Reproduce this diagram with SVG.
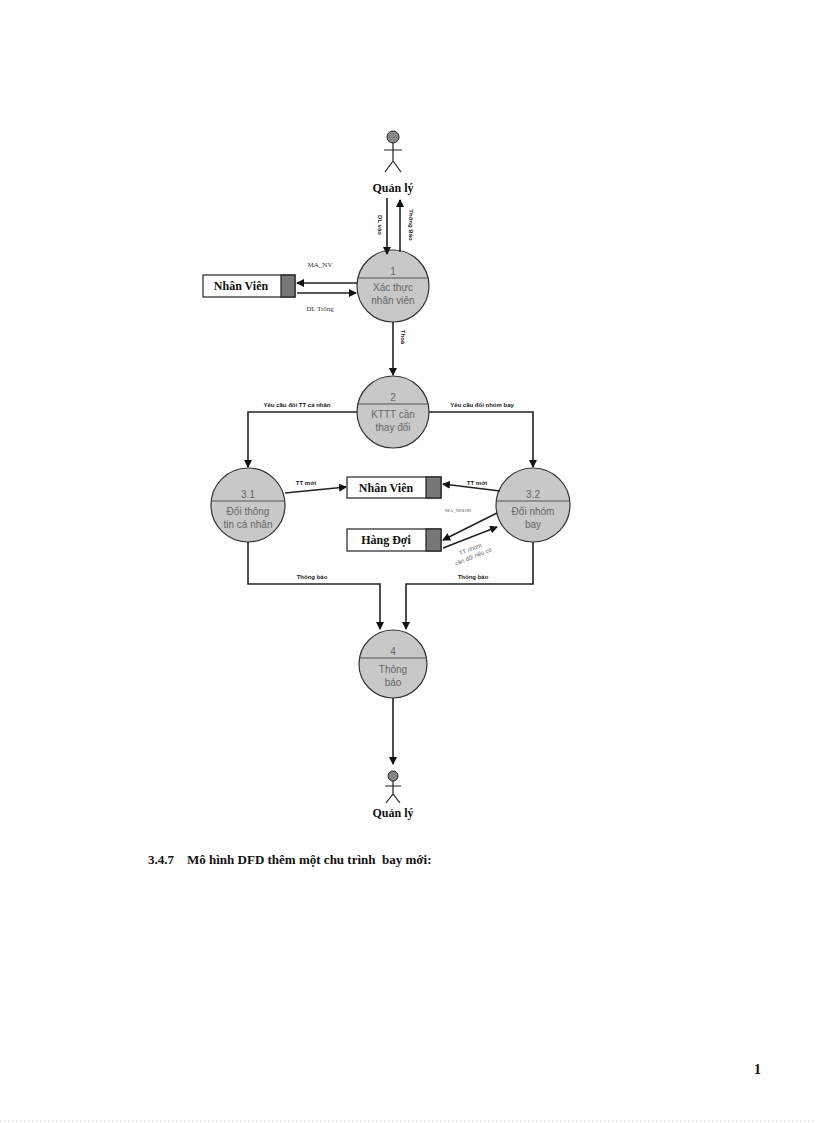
<svg xmlns="http://www.w3.org/2000/svg" width="816" height="1123" viewBox="0 0 816 1123">
<style>
.l{stroke:#222;stroke-width:1.6;fill:none}
.c{fill:#c8c8c8;stroke:#333;stroke-width:1.2}
.ct{font-family:"Liberation Sans",sans-serif;font-size:10px;fill:#666;text-anchor:middle}
.lb{font-family:"Liberation Sans",sans-serif;font-size:6px;font-weight:bold;fill:#222;text-anchor:middle}
.sl{font-family:"Liberation Serif",serif;font-size:7px;fill:#333;text-anchor:middle}
.st{font-family:"Liberation Serif",serif;font-size:12px;font-weight:bold;fill:#111;text-anchor:middle}
.box{fill:#fff;stroke:#222;stroke-width:1.2}
.dk{fill:#777;stroke:#222;stroke-width:1.2}
.act{stroke:#222;stroke-width:1.2;fill:none}
</style>
<defs><marker id="a" markerWidth="8" markerHeight="8" refX="7" refY="4" orient="auto" markerUnits="userSpaceOnUse"><path d="M0,0L8,4L0,8z" fill="#111"/></marker></defs>
<g id="actor-top"><circle cx="393" cy="137" r="6" fill="#888" stroke="#222"/><path class="act" d="M393 143V161M384 150H402M393 161L385 172M393 161L401 172"/><text class="st" x="393" y="192">Quản lý</text></g>
<g id="actor-bottom"><circle cx="393" cy="776" r="5" fill="#888" stroke="#222"/><path class="act" d="M393 781V794M385 786H401M393 794L386 803M393 794L400 803"/><text class="st" x="393" y="817">Quản lý</text></g>
<g id="p1"><circle class="c" cx="393" cy="286" r="36"/><line x1="357" y1="278" x2="429" y2="278" stroke="#555"/><text class="ct" x="393" y="275">1</text><text class="ct" x="393" y="291">Xác thực</text><text class="ct" x="393" y="304">nhân viên</text></g>
<g id="p2"><circle class="c" cx="393" cy="412" r="36"/><line x1="357" y1="404" x2="429" y2="404" stroke="#555"/><text class="ct" x="393" y="401">2</text><text class="ct" x="393" y="418">KTTT cần</text><text class="ct" x="393" y="431">thay đổi</text></g>
<g id="p31"><circle class="c" cx="248" cy="505" r="37"/><line x1="211" y1="501" x2="285" y2="501" stroke="#555"/><text class="ct" x="248" y="498">3.1</text><text class="ct" x="248" y="515">Đổi thông</text><text class="ct" x="248" y="528">tin cá nhân</text></g>
<g id="p32"><circle class="c" cx="533" cy="505" r="37"/><line x1="496" y1="501" x2="570" y2="501" stroke="#555"/><text class="ct" x="533" y="498">3.2</text><text class="ct" x="533" y="515">Đổi nhóm</text><text class="ct" x="533" y="528">bay</text></g>
<g id="p4"><circle class="c" cx="393" cy="664" r="34"/><line x1="359" y1="658" x2="427" y2="658" stroke="#555"/><text class="ct" x="393" y="655">4</text><text class="ct" x="393" y="673">Thông</text><text class="ct" x="393" y="686">báo</text></g>
<g id="ds-nv1"><rect class="box" x="203" y="275" width="92" height="22"/><rect class="dk" x="281" y="275" width="14" height="22"/><text class="st" x="241" y="290">Nhân Viên</text></g>
<g id="ds-nv2"><rect class="box" x="347" y="477" width="94" height="21"/><rect class="dk" x="426" y="477" width="15" height="21"/><text class="st" x="386" y="492">Nhân Viên</text></g>
<g id="ds-hd"><rect class="box" x="347" y="529" width="94" height="22"/><rect class="dk" x="426" y="529" width="15" height="22"/><text class="st" x="386" y="544">Hàng Đợi</text></g>
<g id="connectors">
<path class="l" d="M387 198V254" marker-end="url(#a)"/>
<path class="l" d="M400 252V200" marker-end="url(#a)"/>
<path class="l" d="M357 283H297" marker-end="url(#a)"/>
<path class="l" d="M297 293H356" marker-end="url(#a)"/>
<path class="l" d="M393 322V375" marker-end="url(#a)"/>
<path class="l" d="M357 412H248V467" marker-end="url(#a)"/>
<path class="l" d="M429 412H533V467" marker-end="url(#a)"/>
<path class="l" d="M285 493L346 487" marker-end="url(#a)"/>
<path class="l" d="M500 491L443 484" marker-end="url(#a)"/>
<path class="l" d="M497 513L443 540" marker-end="url(#a)"/>
<path class="l" d="M443 548L497 527" marker-end="url(#a)"/>
<path class="l" d="M248 542V584H380V629" marker-end="url(#a)"/>
<path class="l" d="M533 542V584H406V629" marker-end="url(#a)"/>
<path class="l" d="M393 698V764" marker-end="url(#a)"/>
<text class="lb" transform="translate(378 225) rotate(90)">DL vào</text>
<text class="lb" transform="translate(409 225) rotate(90)">Thông Báo</text>
<text class="sl" x="320" y="267">MA_NV</text>
<text class="sl" x="320" y="311">DL Trống</text>
<text class="lb" transform="translate(401 337) rotate(90)">Thoả</text>
<text class="lb" x="297" y="407">Yêu cầu đổi TT cá nhân</text>
<text class="lb" x="482" y="407">Yêu cầu đổi nhóm bay</text>
<text class="lb" x="306" y="485">TT mới</text>
<text class="lb" x="477" y="485">TT mới</text>
<text class="sl" x="458" y="512" style="font-size:5px;fill:#666">MA_NHOM</text>
<g transform="translate(471 551) rotate(-22)"><text class="ct" style="font-size:6px" x="0" y="0">TT nhóm</text><text class="ct" style="font-size:6px" x="0" y="8">cần đổi nếu có</text></g>
<text class="lb" x="312" y="579">Thông báo</text>
<text class="lb" x="473" y="579">Thông báo</text>
</g>
<text x="148" y="864" font-family="Liberation Serif,serif" font-size="13" font-weight="bold" fill="#111" xml:space="preserve">3.4.7    Mô hình DFD thêm một chu trình  bay mới:</text>
<text x="754" y="1074" font-family="Liberation Serif,serif" font-size="14" font-weight="bold" fill="#111">1</text>
<line x1="0" y1="1121" x2="816" y2="1121" stroke="#bbb" stroke-dasharray="1 3"/>
</svg>
